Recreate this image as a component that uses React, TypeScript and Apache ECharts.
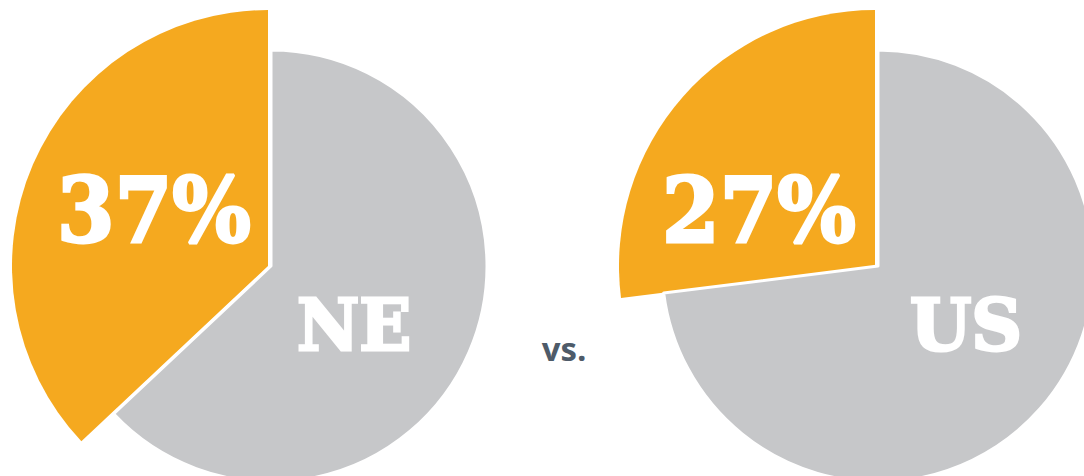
import React, { useEffect, useRef } from "react";
import * as echarts from "echarts";

const regions = ["NE", "US"];
const shares = [37, 27];
const others = [63, 73];

const ORANGE = "#F5A91F";
const GRAY = "#C6C7C9";

// layout (pixels)
const grayCenters = [
  [271, 266],
  [878, 266],
];
const orangeCenters = [
  [268, 266],
  [875, 266],
];
const pctPos = [
  [154, 210],
  [759, 210],
];
const pctScale = [0.93, 0.93];
const namePos = [
  [354, 325],
  [966, 325],
];
const nameScale = [0.96, 0.99];

export default function App() {
  const ref = useRef<HTMLDivElement>(null);
  useEffect(() => {
    if (!ref.current) return;
    const chart = echarts.init(ref.current, undefined, { renderer: "svg" });
    const series: any[] = [];
    regions.forEach((r, i) => {
      series.push({
        type: "pie",
        name: r + "-share",
        center: orangeCenters[i],
        radius: [0, 256],
        startAngle: 90,
        clockwise: false,
        silent: true,
        label: { show: false },
        labelLine: { show: false },
        z: 1,
        data: [
          { name: r + " share", value: shares[i], itemStyle: { color: ORANGE } },
          { name: r + " other", value: others[i], itemStyle: { color: "rgba(0,0,0,0)" } },
        ],
      });
      series.push({
        type: "pie",
        name: r + "-other",
        center: grayCenters[i],
        radius: [0, 216],
        startAngle: 90,
        clockwise: false,
        silent: true,
        label: { show: false },
        labelLine: { show: false },
        z: 2,
        data: [
          { name: r + " share", value: shares[i], itemStyle: { color: "rgba(0,0,0,0)", borderWidth: 0 } },
          { name: r + " other", value: others[i], itemStyle: { color: GRAY, borderColor: "#ffffff", borderWidth: 3 } },
        ],
      });
    });

    const graphic: any[] = [];
    regions.forEach((r, i) => {
      graphic.push({
        type: "text",
        x: pctPos[i][0],
        y: pctPos[i][1],
        scaleX: pctScale[i],
        z: 10,
        style: {
          text: shares[i] + "%",
          fill: "#ffffff",
          stroke: "#ffffff",
          lineWidth: 3,
          font: 'bold 89px "DejaVu Serif", serif',
          textAlign: "center",
          textVerticalAlign: "middle",
        },
      });
      graphic.push({
        type: "text",
        x: namePos[i][0],
        y: namePos[i][1],
        scaleX: nameScale[i],
        z: 10,
        style: {
          text: r,
          fill: "#ffffff",
          stroke: "#ffffff",
          lineWidth: 3,
          font: 'bold 71px "DejaVu Serif", serif',
          textAlign: "center",
          textVerticalAlign: "middle",
        },
      });
    });
    graphic.push({
      type: "text",
      x: 564,
      y: 348,
      z: 10,
      style: {
        text: "vs.",
        fill: "#4E5B69",
        font: 'bold 33px "Open Sans", sans-serif',
        textAlign: "center",
        textVerticalAlign: "middle",
      },
    });

    chart.setOption({
      animation: false,
      backgroundColor: "#ffffff",
      series,
      graphic,
    });
    return () => chart.dispose();
  }, []);
  return (
    <div
      ref={ref}
      style={{ position: "fixed", left: 0, top: 0, width: 1084, height: 476 }}
    />
  );
}
